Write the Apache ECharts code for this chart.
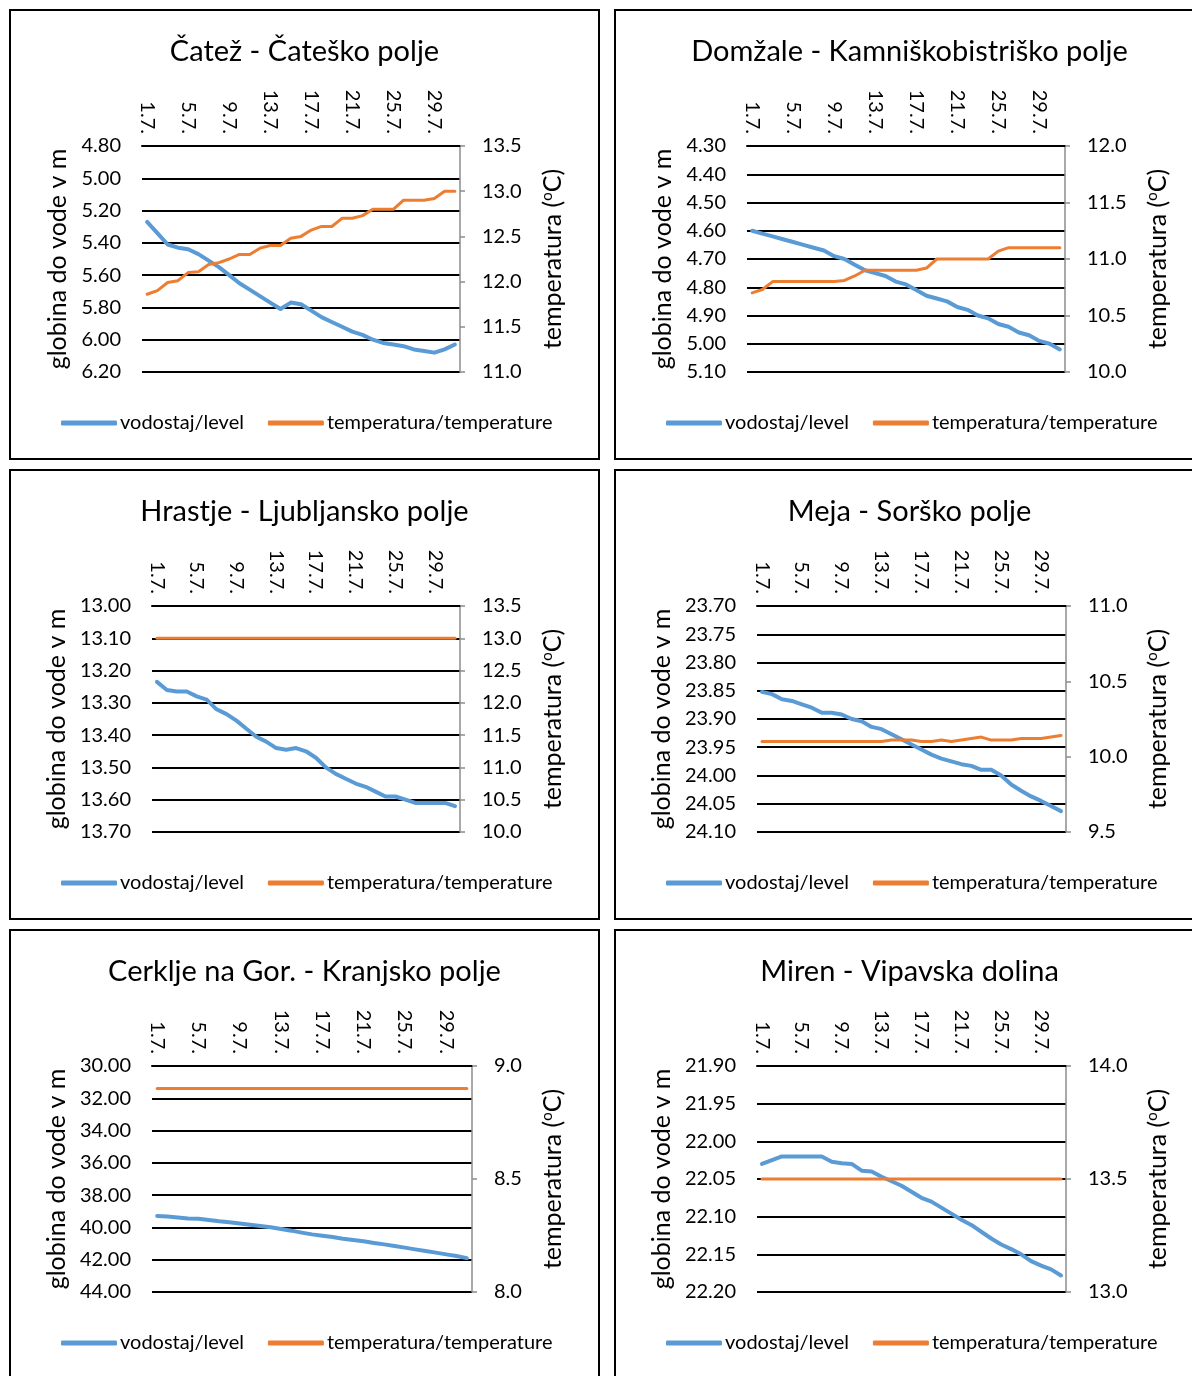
<!DOCTYPE html>
<html lang="sl">
<head>
  <meta charset="utf-8">
  <script src="https://cdn.jsdelivr.net/npm/echarts@6/dist/echarts.min.js"></script>
  <style>
    body { margin: 0; background: #fff; }
    .box { position: absolute; width: 591px; height: 451px; box-sizing: border-box; border: 2px solid #000; }
    .box > div { width: 100%; height: 100%; }
  </style>
</head>
<body>
  <div class="box" style="left:9px;top:9px"><div id="c0"></div></div>
  <div class="box" style="left:614px;top:9px"><div id="c1"></div></div>
  <div class="box" style="left:9px;top:469px"><div id="c2"></div></div>
  <div class="box" style="left:614px;top:469px"><div id="c3"></div></div>
  <div class="box" style="left:9px;top:929px"><div id="c4"></div></div>
  <div class="box" style="left:614px;top:929px"><div id="c5"></div></div>

  <script type="text/javascript">
    var days = ['1.7.', '2.7.', '3.7.', '4.7.', '5.7.', '6.7.', '7.7.', '8.7.', '9.7.', '10.7.',
      '11.7.', '12.7.', '13.7.', '14.7.', '15.7.', '16.7.', '17.7.', '18.7.', '19.7.', '20.7.',
      '21.7.', '22.7.', '23.7.', '24.7.', '25.7.', '26.7.', '27.7.', '28.7.', '29.7.', '30.7.', '31.7.'];

    var titles = ['Čatež - Čateško polje', 'Domžale - Kamniškobistriško polje', 'Hrastje - Ljubljansko polje',
      'Meja - Sorško polje', 'Cerklje na Gor. - Kranjsko polje', 'Miren - Vipavska dolina'];

    // globina do vode (m)
    var levelCatez = [5.27, 5.34, 5.41, 5.43, 5.44, 5.47, 5.51, 5.55, 5.60, 5.65, 5.69, 5.73, 5.77, 5.81, 5.77, 5.78,
      5.82, 5.86, 5.89, 5.92, 5.95, 5.97, 6.00, 6.02, 6.03, 6.04, 6.06, 6.07, 6.08, 6.06, 6.03];
    var levelDomzale = [4.60, 4.61, 4.62, 4.63, 4.64, 4.65, 4.66, 4.67, 4.69, 4.70, 4.72, 4.74, 4.75, 4.76, 4.78, 4.79,
      4.81, 4.83, 4.84, 4.85, 4.87, 4.88, 4.90, 4.91, 4.93, 4.94, 4.96, 4.97, 4.99, 5.00, 5.02];
    var levelHrastje = [13.235, 13.26, 13.265, 13.265, 13.28, 13.29, 13.32, 13.335, 13.355, 13.38, 13.405, 13.42, 13.44,
      13.445, 13.44, 13.45, 13.47, 13.50, 13.52, 13.535, 13.55, 13.56, 13.575, 13.59, 13.59, 13.60, 13.61, 13.61,
      13.61, 13.61, 13.62];
    var levelMeja = [23.852, 23.856, 23.865, 23.868, 23.874, 23.88, 23.889, 23.889, 23.892, 23.90, 23.904, 23.914,
      23.918, 23.927, 23.936, 23.945, 23.954, 23.963, 23.97, 23.975, 23.98, 23.983, 23.99, 23.99, 24.00, 24.016,
      24.027, 24.037, 24.045, 24.054, 24.063];
    var levelCerklje = [39.29, 39.33, 39.39, 39.44, 39.46, 39.54, 39.62, 39.68, 39.75, 39.83, 39.91, 39.99, 40.10,
      40.20, 40.32, 40.43, 40.51, 40.59, 40.70, 40.78, 40.86, 40.96, 41.05, 41.15, 41.25, 41.36, 41.46, 41.56,
      41.67, 41.77, 41.90];
    var levelMiren = [22.030, 22.025, 22.020, 22.020, 22.020, 22.020, 22.020, 22.027, 22.029, 22.030, 22.039, 22.040,
      22.047, 22.053, 22.059, 22.067, 22.075, 22.080, 22.088, 22.096, 22.104, 22.111, 22.120, 22.129, 22.137,
      22.143, 22.150, 22.159, 22.165, 22.170, 22.178];

    // temperatura (°C)
    var tempCatez = [11.86, 11.90, 11.99, 12.01, 12.10, 12.11, 12.19, 12.21, 12.25, 12.30, 12.30, 12.37, 12.40, 12.40,
      12.48, 12.50, 12.57, 12.61, 12.61, 12.70, 12.70, 12.73, 12.80, 12.80, 12.80, 12.90, 12.90, 12.90, 12.92,
      13.00, 13.00];
    var tempDomzale = [10.70, 10.73, 10.80, 10.80, 10.80, 10.80, 10.80, 10.80, 10.80, 10.81, 10.85, 10.90, 10.90,
      10.90, 10.90, 10.90, 10.90, 10.92, 11.00, 11.00, 11.00, 11.00, 11.00, 11.00, 11.07, 11.10, 11.10, 11.10,
      11.10, 11.10, 11.10];
    var tempHrastje = [13.0, 13.0, 13.0, 13.0, 13.0, 13.0, 13.0, 13.0, 13.0, 13.0, 13.0, 13.0, 13.0, 13.0, 13.0, 13.0,
      13.0, 13.0, 13.0, 13.0, 13.0, 13.0, 13.0, 13.0, 13.0, 13.0, 13.0, 13.0, 13.0, 13.0, 13.0];
    var tempMeja = [10.10, 10.10, 10.10, 10.10, 10.10, 10.10, 10.10, 10.10, 10.10, 10.10, 10.10, 10.10, 10.10, 10.11,
      10.11, 10.11, 10.10, 10.10, 10.11, 10.10, 10.11, 10.12, 10.13, 10.11, 10.11, 10.11, 10.12, 10.12, 10.12,
      10.13, 10.14];
    var tempCerklje = [8.9, 8.9, 8.9, 8.9, 8.9, 8.9, 8.9, 8.9, 8.9, 8.9, 8.9, 8.9, 8.9, 8.9, 8.9, 8.9,
      8.9, 8.9, 8.9, 8.9, 8.9, 8.9, 8.9, 8.9, 8.9, 8.9, 8.9, 8.9, 8.9, 8.9, 8.9];
    var tempMiren = [13.5, 13.5, 13.5, 13.5, 13.5, 13.5, 13.5, 13.5, 13.5, 13.5, 13.5, 13.5, 13.5, 13.5, 13.5, 13.5,
      13.5, 13.5, 13.5, 13.5, 13.5, 13.5, 13.5, 13.5, 13.5, 13.5, 13.5, 13.5, 13.5, 13.5, 13.5];

    // axis ranges: [min, max, step]
    var levelAxes = [[4.8, 6.2, 0.2], [4.3, 5.1, 0.1], [13.0, 13.7, 0.1], [23.7, 24.1, 0.05], [30, 44, 2], [21.9, 22.2, 0.05]];
    var tempAxes = [[11, 13.5, 0.5], [10, 12, 0.5], [10, 13.5, 0.5], [9.5, 11, 0.5], [8, 9, 0.5], [13, 14, 0.5]];

    var levels = [levelCatez, levelDomzale, levelHrastje, levelMeja, levelCerklje, levelMiren];
    var temps = [tempCatez, tempDomzale, tempHrastje, tempMeja, tempCerklje, tempMiren];

    // grid left / width inside each box
    var gridPos = [[131, 318], [131, 318], [141, 308], [141, 309], [141, 320], [141, 309]];

    var FONT = 'Lato';
    var BLUE = '#5B9BD5', ORANGE = '#ED7D31';

    for (var k = 0; k < 6; k++) {
      var chart = echarts.init(document.getElementById('c' + k), null, { renderer: 'canvas' });
      var gl = gridPos[k][0], gw = gridPos[k][1];
      var la = levelAxes[k], ta = tempAxes[k];
      var option = {
        animation: false,
        textStyle: { fontFamily: FONT, color: '#000' },
        title: {
          text: titles[k], left: 'center', top: 21,
          textStyle: { fontFamily: FONT, fontSize: 29, fontWeight: 'normal', color: '#000' }
        },
        legend: {
          left: 45, top: 397, itemWidth: 56, itemHeight: 5, itemGap: 24,
          textStyle: { fontFamily: FONT, fontSize: 20, color: '#000', padding: [0, 0, 0, -2] },
          data: [{ name: 'vodostaj/level', icon: 'roundRect' }, { name: 'temperatura/temperature', icon: 'roundRect' }]
        },
        grid: { left: gl, top: 135, width: gw, height: 226 },
        xAxis: {
          type: 'category', position: 'top', data: days, boundaryGap: true,
          axisLine: { onZero: false, lineStyle: { color: '#000', width: 2 } },
          axisTick: { interval: 3, length: 5, lineStyle: { color: '#000', width: 1.5 } },
          axisLabel: { interval: 3, rotate: 90, fontSize: 20, color: '#000', margin: 12, fontFamily: FONT },
          splitLine: { show: false }
        },
        yAxis: [
          {
            type: 'value', inverse: true, min: la[0], max: la[1], interval: la[2],
            name: 'globina do vode v m', nameLocation: 'middle', nameGap: gl - 63,
            nameTextStyle: { fontSize: 25, color: '#000', fontFamily: FONT },
            axisLine: { show: false }, axisTick: { show: false },
            axisLabel: { fontSize: 20, color: '#000', margin: 21, fontFamily: FONT,
              formatter: function (v) { return v.toFixed(2); } },
            splitLine: { lineStyle: { color: '#000', width: 2 } }
          },
          {
            type: 'value', position: 'right', min: ta[0], max: ta[1], interval: ta[2],
            name: 'temperatura ({s|o}C)', nameLocation: 'middle', nameGap: 529 - (gl + gw),
            nameTextStyle: { fontSize: 25, color: '#000', fontFamily: FONT,
              rich: { s: { fontSize: 15, verticalAlign: 'top', fontFamily: FONT, color: '#000', padding: [0, 0, 9, 0] } } },
            axisLine: { show: true, lineStyle: { color: '#8c8c8c', width: 1.5 } },
            axisTick: { show: true, length: 5, lineStyle: { color: '#8c8c8c', width: 1.5 } },
            axisLabel: { fontSize: 20, color: '#000', margin: 22, fontFamily: FONT,
              formatter: function (v) { return v.toFixed(1); } },
            splitLine: { show: false }
          }
        ],
        series: [
          {
            name: 'vodostaj/level', type: 'line', yAxisIndex: 0, data: levels[k],
            symbol: 'none', lineStyle: { color: BLUE, width: 4, cap: 'round', join: 'round' }, itemStyle: { color: BLUE }
          },
          {
            name: 'temperatura/temperature', type: 'line', yAxisIndex: 1, data: temps[k],
            symbol: 'none', lineStyle: { color: ORANGE, width: 3, cap: 'round', join: 'round' }, itemStyle: { color: ORANGE }
          }
        ]
      };
      chart.setOption(option);
    }
  </script>
</body>
</html>
